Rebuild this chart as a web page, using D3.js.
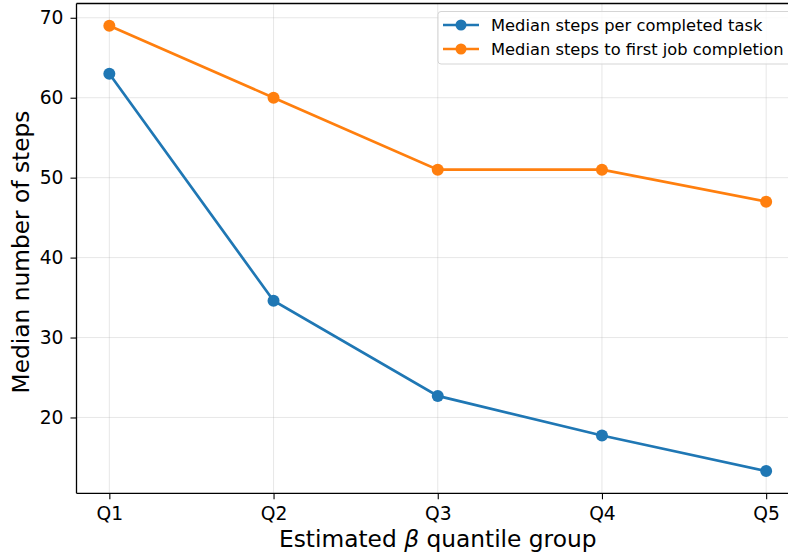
<!DOCTYPE html>
<html>
<head>
<meta charset="utf-8">
<script src="https://cdn.jsdelivr.net/npm/d3@7"></script>
<style>
  body { margin: 0; background: #fff; }
  svg text { font-family: "DejaVu Sans", sans-serif; fill: #000; }
</style>
</head>
<body>
<div id="chart"></div>
<script>
var groups = ["Q1", "Q2", "Q3", "Q4", "Q5"];
var stepsPerTask = [63, 34.6, 22.7, 17.75, 13.3];
var stepsFirstJob = [69, 60, 51, 51, 47];
var yTicks = [20, 30, 40, 50, 60, 70];
var seriesNames = ["Median steps per completed task", "Median steps to first job completion"];
var seriesColors = ["#1f77b4", "#ff7f0e"];

var width = 788, height = 556;
var margin = {top: 3.5, left: 76.5, right: -11, bottom: 62.7};
var w = width - margin.left - margin.right;
var h = height - margin.top - margin.bottom;

var svg = d3.select("#chart").append("svg")
    .attr("width", width)
    .attr("height", height);

var g = svg.append("g")
    .attr("transform", "translate(" + margin.left + "," + margin.top + ")");

// x: index scale with matplotlib's 5% padding
var x = d3.scaleLinear()
    .domain([-0.2, groups.length - 1 + 0.2])
    .range([0, w]);

var allVals = stepsPerTask.concat(stepsFirstJob);
var lo = d3.min(allVals), hi = d3.max(allVals);
var pad = (hi - lo) * 0.05;
var y = d3.scaleLinear()
    .domain([lo - pad, hi + pad])
    .range([h, 0]);

// grid
g.append("g").selectAll("line.gx")
    .data(groups)
    .enter().append("line")
    .attr("x1", function(d, i){ return x(i); })
    .attr("x2", function(d, i){ return x(i); })
    .attr("y1", 0).attr("y2", h)
    .attr("stroke", "#b0b0b0").attr("stroke-opacity", 0.3).attr("stroke-width", 1);

g.append("g").selectAll("line.gy")
    .data(yTicks)
    .enter().append("line")
    .attr("x1", 0).attr("x2", w)
    .attr("y1", function(d){ return y(d); })
    .attr("y2", function(d){ return y(d); })
    .attr("stroke", "#b0b0b0").attr("stroke-opacity", 0.3).attr("stroke-width", 1);

// axes
var xAxis = g.append("g")
    .attr("transform", "translate(0," + h + ")")
    .call(d3.axisBottom(x)
        .tickValues(d3.range(groups.length))
        .tickFormat(function(i){ return groups[i]; })
        .tickSize(6).tickPadding(7));

var yAxis = g.append("g")
    .call(d3.axisLeft(y).tickValues(yTicks).tickSize(6).tickPadding(7));

[xAxis, yAxis].forEach(function(a){
    a.select(".domain").attr("stroke", "#000").attr("stroke-width", 1.3);
    a.selectAll(".tick line").attr("stroke", "#000").attr("stroke-width", 1.1);
    a.selectAll(".tick text").style("font-size", "18.7px").attr("fill", "#000");
});
xAxis.select(".domain").attr("d", "M0,0H" + w);
yAxis.select(".domain").attr("d", "M0," + h + "V0");

// top and right spines
g.append("line").attr("x1", 0).attr("x2", w).attr("y1", 0).attr("y2", 0)
    .attr("stroke", "#000").attr("stroke-width", 1.3);
g.append("line").attr("x1", w).attr("x2", w).attr("y1", 0).attr("y2", h)
    .attr("stroke", "#000").attr("stroke-width", 1.3);

// series
var series = [stepsPerTask, stepsFirstJob];
var line = d3.line()
    .x(function(d, i){ return x(i); })
    .y(function(d){ return y(d); });

series.forEach(function(vals, s){
    g.append("path")
        .datum(vals)
        .attr("d", line)
        .attr("fill", "none")
        .attr("stroke", seriesColors[s])
        .attr("stroke-width", 2.7);
    g.selectAll("circle.s" + s)
        .data(vals)
        .enter().append("circle")
        .attr("cx", function(d, i){ return x(i); })
        .attr("cy", function(d){ return y(d); })
        .attr("r", 6)
        .attr("fill", seriesColors[s]);
});

// axis labels
svg.append("text")
    .attr("x", margin.left + x(2))
    .attr("y", 546.5)
    .attr("text-anchor", "middle")
    .style("font-size", "23.3px")
    .html('Estimated <tspan font-style="italic">β</tspan> quantile group');

svg.append("text")
    .attr("transform", "translate(29,252) rotate(-90)")
    .attr("text-anchor", "middle")
    .style("font-size", "23.3px")
    .text("Median number of steps");

// legend
var leg = svg.append("g").attr("transform", "translate(438,11.5)");
leg.append("rect")
    .attr("width", 370).attr("height", 52.5)
    .attr("rx", 3)
    .attr("fill", "#fff").attr("fill-opacity", 0.8)
    .attr("stroke", "#d5d5d5").attr("stroke-width", 1);
seriesNames.forEach(function(name, s){
    var ly = 13.5 + s * 24;
    leg.append("line")
        .attr("x1", 5).attr("x2", 41).attr("y1", ly).attr("y2", ly)
        .attr("stroke", seriesColors[s]).attr("stroke-width", 2.7);
    leg.append("circle")
        .attr("cx", 23).attr("cy", ly).attr("r", 5.5)
        .attr("fill", seriesColors[s]);
    leg.append("text")
        .attr("x", 53).attr("y", ly)
        .attr("dy", "0.35em")
        .style("font-size", "16.3px")
        .text(name);
});
</script>
</body>
</html>
